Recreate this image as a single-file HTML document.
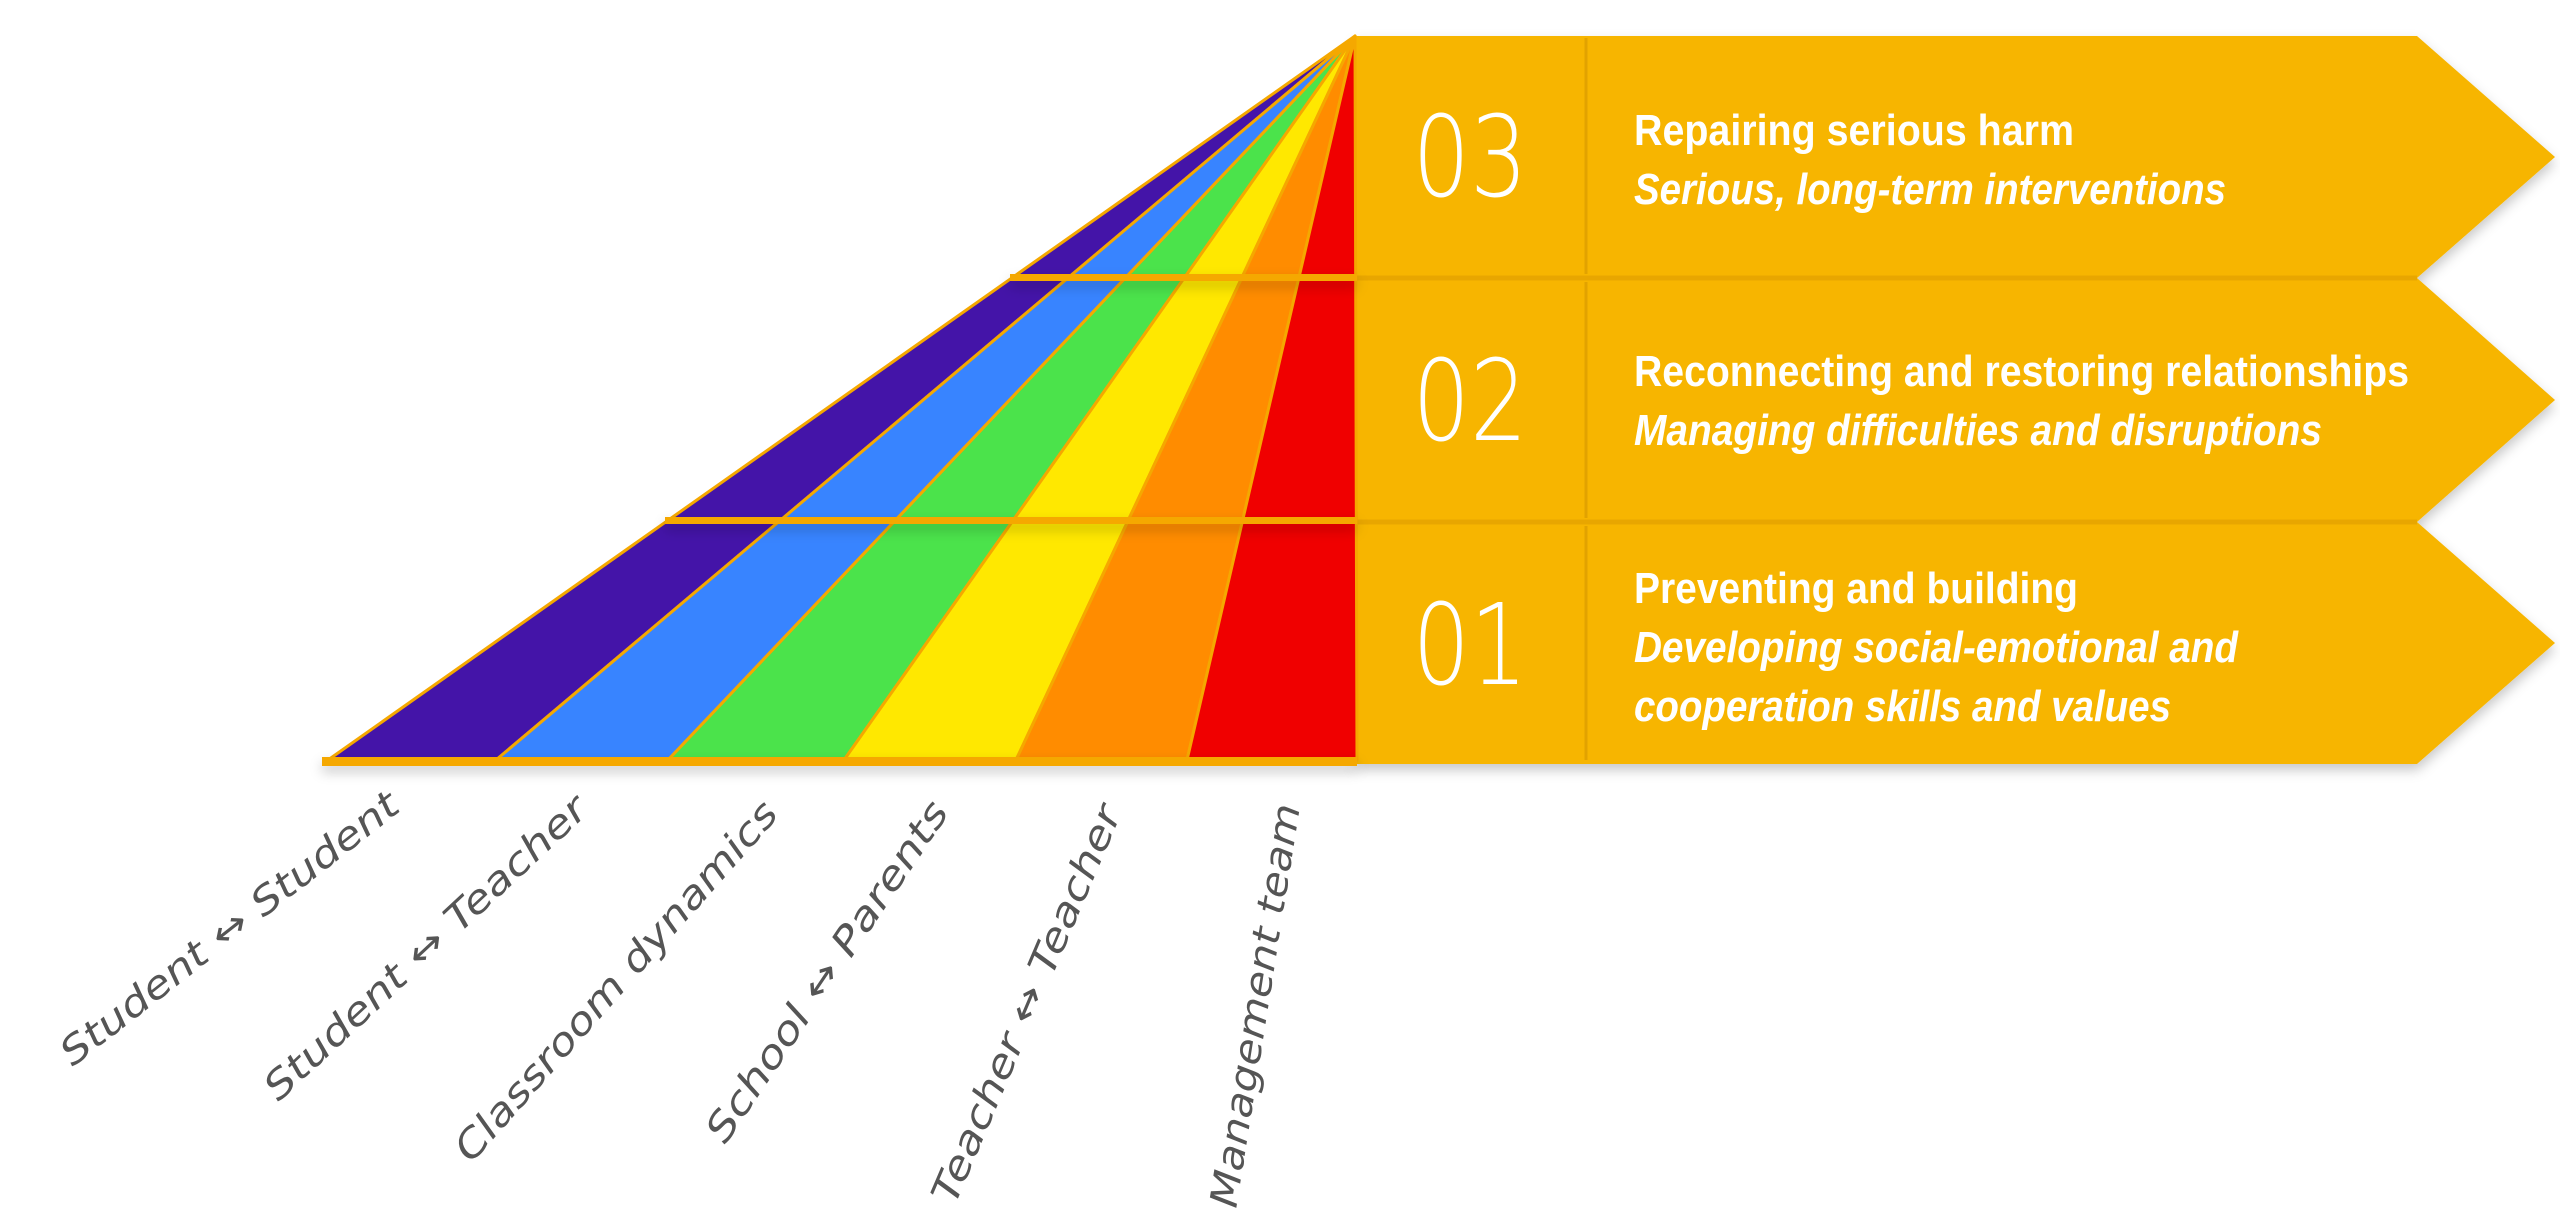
<!DOCTYPE html>
<html><head><meta charset="utf-8"><style>
html,body{margin:0;padding:0;background:#fff;}
svg{display:block;}
</style></head><body>
<svg width="2560" height="1209" viewBox="0 0 2560 1209" xmlns="http://www.w3.org/2000/svg">
<defs>
<filter id="sh" x="-5%" y="-5%" width="110%" height="120%">
<feDropShadow dx="0" dy="6" stdDeviation="6" flood-color="#000" flood-opacity="0.22"/>
</filter>
</defs>
<!-- rows -->
<g filter="url(#sh)">
<polygon points="1355,36 2417,36 2555,157 2417,278 1355,278" fill="#F7B500"/>
<polygon points="1355,278 2417,278 2555,400 2417,522 1355,522" fill="#F7B500"/>
<polygon points="1355,522 2417,522 2555,643 2417,764 1355,764" fill="#F7B500"/>
</g>
<g stroke="#E8A600" stroke-width="5">
<line x1="1355" y1="278" x2="2417" y2="278"/>
<line x1="1355" y1="522" x2="2417" y2="522"/>
</g>
<g stroke="#E2A200" stroke-width="3">
<line x1="1586" y1="38" x2="1586" y2="274"/>
<line x1="1586" y1="282" x2="1586" y2="518"/>
<line x1="1586" y1="526" x2="1586" y2="760"/>
</g>
<!-- stripes -->
<g stroke="#F5A800" stroke-width="3" stroke-linejoin="round">
<polygon points="1355,36 328,760 496,760" fill="#4414A8"/>
<polygon points="1355,36 496,760 668,760" fill="#3884FF"/>
<polygon points="1355,36 668,760 844,760" fill="#4BE34B"/>
<polygon points="1355,36 844,760 1016,760" fill="#FFE800"/>
<polygon points="1355,36 1016,760 1187,760" fill="#FF8C00"/>
<polygon points="1355,36 1187,760 1357,760" fill="#F00000"/>
</g>
<!-- band dividers -->
<g filter="url(#sh)">
<rect x="1010" y="274" width="347" height="7" fill="#F5A800"/>
<rect x="665" y="517" width="692" height="7" fill="#F5A800"/>
<rect x="322" y="757" width="1035" height="9" fill="#F5A800"/>
</g>
<!-- numbers -->
<g font-family="DejaVu Sans, Liberation Sans, sans-serif" font-size="112" fill="#fff" text-anchor="middle" font-weight="200">
<text x="1470" y="196" textLength="115" lengthAdjust="spacingAndGlyphs">03</text>
<text x="1470" y="440" textLength="115" lengthAdjust="spacingAndGlyphs">02</text>
<text x="1470" y="684" textLength="115" lengthAdjust="spacingAndGlyphs">01</text>
</g>
<!-- texts -->
<g font-family="Liberation Sans, sans-serif" font-size="44" fill="#fff">
<text x="1634" y="145" font-weight="bold" textLength="440" lengthAdjust="spacingAndGlyphs">Repairing serious harm</text>
<text x="1634" y="204" font-style="italic" font-weight="bold" textLength="592" lengthAdjust="spacingAndGlyphs">Serious, long-term interventions</text>
<text x="1634" y="386" font-weight="bold" textLength="775" lengthAdjust="spacingAndGlyphs">Reconnecting and restoring relationships</text>
<text x="1634" y="445" font-style="italic" font-weight="bold" textLength="688" lengthAdjust="spacingAndGlyphs">Managing difficulties and disruptions</text>
<text x="1634" y="603" font-weight="bold" textLength="444" lengthAdjust="spacingAndGlyphs">Preventing and building</text>
<text x="1634" y="662" font-style="italic" font-weight="bold" textLength="604" lengthAdjust="spacingAndGlyphs">Developing social-emotional and</text>
<text x="1634" y="721" font-style="italic" font-weight="bold" textLength="537" lengthAdjust="spacingAndGlyphs">cooperation skills and values</text>
</g>
<!-- labels -->
<g font-family="DejaVu Sans, Liberation Sans, sans-serif" font-size="38" fill="#555" text-anchor="end" font-style="italic" font-weight="200">
<text transform="translate(402,810) rotate(-38)" textLength="418" lengthAdjust="spacingAndGlyphs">Student ↔ Student</text>
<text transform="translate(590,812) rotate(-43)" textLength="426" lengthAdjust="spacingAndGlyphs">Student ↔ Teacher</text>
<text transform="translate(780,815) rotate(-48.5)" textLength="466" lengthAdjust="spacingAndGlyphs">Classroom dynamics</text>
<text transform="translate(950,812) rotate(-56)" textLength="402" lengthAdjust="spacingAndGlyphs">School ↔ Parents</text>
<text transform="translate(1122,812) rotate(-67)" textLength="428" lengthAdjust="spacingAndGlyphs">Teacher ↔ Teacher</text>
<text transform="translate(1300,806) rotate(-81)" textLength="408" lengthAdjust="spacingAndGlyphs">Management team</text>
</g>
</svg>
</body></html>
